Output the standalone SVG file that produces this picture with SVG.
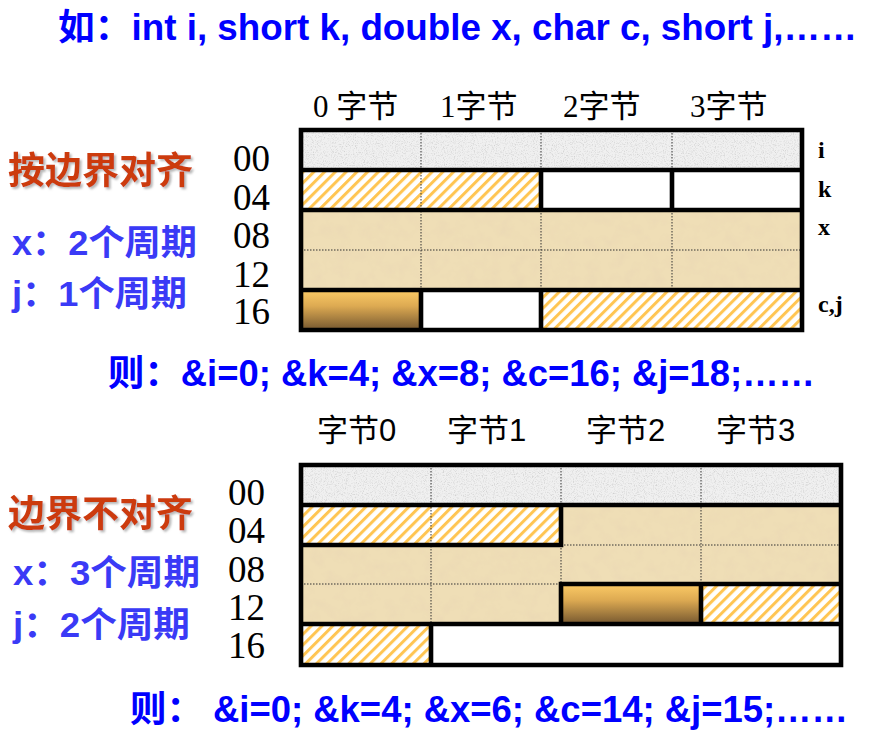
<svg xmlns="http://www.w3.org/2000/svg" width="870" height="739" viewBox="0 0 870 739">
<style>
  .top { font-family: "Liberation Sans", "Noto Sans CJK SC", sans-serif; font-weight: bold; font-size: 36px; fill: #0000FF; }
  .title { font-family: "Noto Sans CJK SC", sans-serif; font-weight: bold; font-size: 37px; fill: #CC3A10; filter: url(#shadow); }
  .cyc { font-family: "Liberation Sans", "Noto Sans CJK SC", sans-serif; font-weight: bold; font-size: 35px; fill: #3A3AF6; }
  .addr { font-family: "Liberation Serif", serif; font-size: 37px; fill: #000; }
  .hdr1 { font-family: "Liberation Serif", "Noto Sans CJK SC", serif; font-size: 31px; fill: #000; }
  .hdr2 { font-family: "Liberation Sans", "Noto Sans CJK SC", sans-serif; font-size: 31px; fill: #000; }
  .var { font-family: "Liberation Serif", serif; font-weight: bold; font-size: 24px; fill: #000; }
  .thick { stroke: #000; stroke-width: 4.6; fill: none; stroke-linecap: square; }
  .dot { stroke: #333; stroke-width: 1; stroke-dasharray: 1.5 1.5; fill: none; }
  .gray { fill: #F0F0F0; filter: url(#grainGray); }
  .tan { fill: #EFDEB6; filter: url(#grainTan); }
  .hatch { fill: url(#hatch); }
  .grad { fill: url(#cgrad); }
  .white { fill: #FFFFFF; }
</style>
<defs>
  <pattern id="hatch" width="7.6" height="7.6" patternUnits="userSpaceOnUse" patternTransform="rotate(45)">
    <rect width="7.6" height="7.6" fill="#FFFFFF"/>
    <rect width="3" height="7.6" fill="#FFC552"/>
  </pattern>
  <linearGradient id="cgrad" x1="0" y1="0" x2="0" y2="1">
    <stop offset="0" stop-color="#FCCB66"/>
    <stop offset="0.4" stop-color="#DDAA52"/>
    <stop offset="1" stop-color="#765830"/>
  </linearGradient>
  <filter id="grainGray" x="0" y="0" width="1" height="1">
    <feTurbulence type="fractalNoise" baseFrequency="0.9" numOctaves="2" seed="4" result="t"/>
    <feColorMatrix in="t" type="matrix" values="0 0 0 0 0.6  0 0 0 0 0.6  0 0 0 0 0.6  2.2 0 0 0 -1.05" result="m"/>
    <feComposite in="m" in2="SourceAlpha" operator="in" result="c"/>
    <feMerge><feMergeNode in="SourceGraphic"/><feMergeNode in="c"/></feMerge>
  </filter>
  <filter id="grainTan" x="0" y="0" width="1" height="1">
    <feTurbulence type="fractalNoise" baseFrequency="0.08" numOctaves="3" seed="7" result="t"/>
    <feColorMatrix in="t" type="matrix" values="0 0 0 0 0.8  0 0 0 0 0.66  0 0 0 0 0.46  1.0 0 0 0 -0.45" result="m"/>
    <feComposite in="m" in2="SourceAlpha" operator="in" result="c"/>
    <feMerge><feMergeNode in="SourceGraphic"/><feMergeNode in="c"/></feMerge>
  </filter>
  <filter id="shadow" x="-5%" y="-20%" width="115%" height="150%">
    <feDropShadow dx="2" dy="2" stdDeviation="0.8" flood-color="#999999" flood-opacity="0.7"/>
  </filter>
</defs>
<rect width="870" height="739" fill="#FFFFFF"/>

<g id="header-line">
  <text class="top" x="58" y="40" textLength="799" lengthAdjust="spacingAndGlyphs">如：int i, short k, double x, char c, short j,……</text>
</g>

<g id="aligned-labels">
  <text class="title" x="8" y="184">按边界对齐</text>
  <text class="cyc" x="12" y="255" textLength="185" lengthAdjust="spacingAndGlyphs">x：2个周期</text>
  <text class="cyc" x="12" y="306" textLength="175" lengthAdjust="spacingAndGlyphs">j：1个周期</text>
</g>

<g id="table1-headers">
  <text class="hdr1" x="313" y="117">0 字节</text>
  <text class="hdr1" x="440" y="117">1字节</text>
  <text class="hdr1" x="563" y="117">2字节</text>
  <text class="hdr1" x="690" y="117">3字节</text>
</g>

<g id="table1-addresses">
  <text class="addr" x="233" y="171">00</text>
  <text class="addr" x="233" y="210">04</text>
  <text class="addr" x="233" y="248">08</text>
  <text class="addr" x="233" y="287">12</text>
  <text class="addr" x="233" y="324">16</text>
</g>

<g id="table1">
  <rect class="gray" x="301" y="130" width="501" height="40"/>
  <rect class="hatch" x="301" y="170" width="240" height="40"/>
  <rect class="white" x="541" y="170" width="261" height="40"/>
  <rect class="tan" x="301" y="210" width="501" height="80"/>
  <rect class="grad" x="301" y="290" width="120" height="40"/>
  <rect class="white" x="421" y="290" width="120" height="40"/>
  <rect class="hatch" x="541" y="290" width="261" height="40"/>
  <path class="dot" d="M421 130V290 M541 130V170 M541 210V290 M672 130V170 M672 210V290 M301 250H802"/>
  <path class="thick" d="M301 130H802V330H301Z M301 170H802 M301 210H802 M301 290H802 M541 170V210 M672 170V210 M421 290V330 M541 290V330"/>
</g>

<g id="table1-vars">
  <text class="var" x="818" y="158">i</text>
  <text class="var" x="818" y="197">k</text>
  <text class="var" x="818" y="235">x</text>
  <text class="var" x="818" y="312">c,j</text>
</g>

<g id="result1">
  <text class="top" x="108" y="386" textLength="707" lengthAdjust="spacingAndGlyphs">则：&amp;i=0; &amp;k=4; &amp;x=8; &amp;c=16; &amp;j=18;……</text>
</g>

<g id="table2-headers">
  <text class="hdr2" x="317" y="441">字节0</text>
  <text class="hdr2" x="447" y="441">字节1</text>
  <text class="hdr2" x="586" y="441">字节2</text>
  <text class="hdr2" x="716" y="441">字节3</text>
</g>

<g id="unaligned-labels">
  <text class="title" x="8" y="527">边界不对齐</text>
  <text class="cyc" x="13" y="585" textLength="187" lengthAdjust="spacingAndGlyphs">x：3个周期</text>
  <text class="cyc" x="13" y="637" textLength="177" lengthAdjust="spacingAndGlyphs">j：2个周期</text>
</g>

<g id="table2-addresses">
  <text class="addr" x="228" y="505">00</text>
  <text class="addr" x="228" y="543">04</text>
  <text class="addr" x="228" y="582">08</text>
  <text class="addr" x="228" y="620">12</text>
  <text class="addr" x="228" y="658">16</text>
</g>

<g id="table2">
  <rect class="gray" x="301" y="465" width="540" height="40"/>
  <rect class="hatch" x="301" y="505" width="260" height="40"/>
  <rect class="tan" x="561" y="505" width="280" height="79"/>
  <rect class="tan" x="301" y="545" width="260" height="79"/>
  <rect class="grad" x="561" y="584" width="140" height="40"/>
  <rect class="hatch" x="701" y="584" width="140" height="40"/>
  <rect class="hatch" x="301" y="624" width="130" height="41"/>
  <rect class="white" x="431" y="624" width="410" height="41"/>
  <path class="dot" d="M431 465V624 M561 465V505 M561 545V584 M701 465V584 M561 545H841 M301 584H561"/>
  <path class="thick" d="M301 465H841V665H301Z M301 505H841 M301 545H561 M561 505V545 M561 584H841 M561 584V624 M701 584V624 M301 624H841 M431 624V665"/>
</g>

<g id="result2">
  <text class="top" x="130" y="722" textLength="718" lengthAdjust="spacingAndGlyphs">则： &amp;i=0; &amp;k=4; &amp;x=6; &amp;c=14; &amp;j=15;……</text>
</g>
</svg>
